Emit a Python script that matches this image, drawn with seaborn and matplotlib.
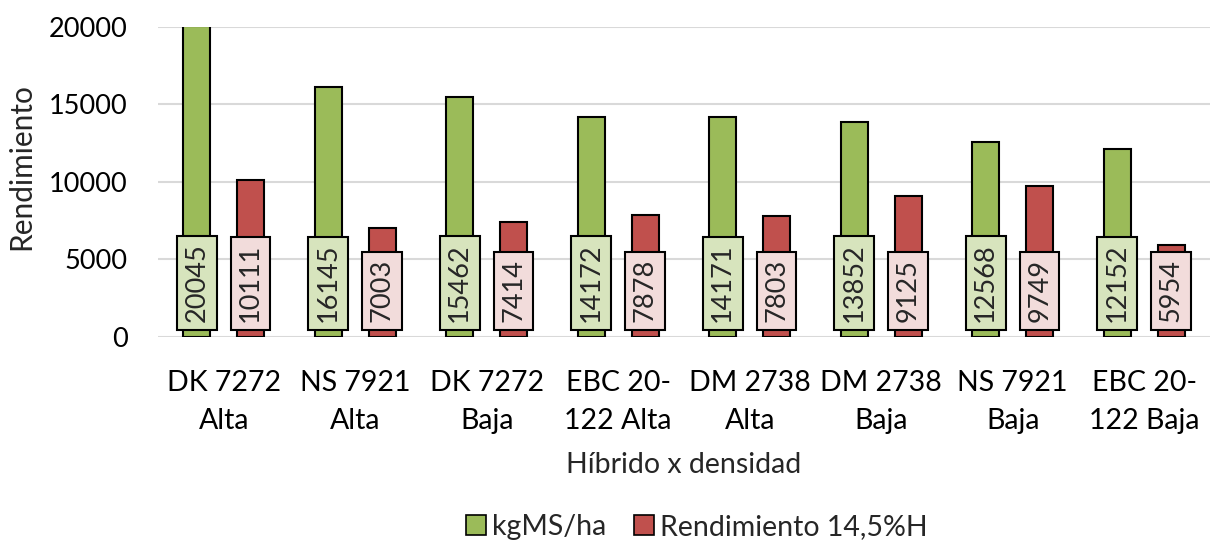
import matplotlib
matplotlib.use("Agg")
import matplotlib.pyplot as plt
import seaborn as sns
import pandas as pd
from matplotlib.patches import Patch

categories = ["DK 7272\nAlta", "NS 7921\nAlta", "DK 7272\nBaja", "EBC 20-\n122 Alta",
              "DM 2738\nAlta", "DM 2738\nBaja", "NS 7921\nBaja", "EBC 20-\n122 Baja"]
kgms = [20045, 16145, 15462, 14172, 14171, 13852, 12568, 12152]
rend = [10111, 7003, 7414, 7878, 7803, 9125, 9749, 5954]
series = ["kgMS/ha", "Rendimiento 14,5%H"]

df = pd.DataFrame({
    "cat": categories * 2,
    "serie": [series[0]] * len(categories) + [series[1]] * len(categories),
    "val": kgms + rend,
})

sns.set_theme(style="white")
plt.rcParams["font.family"] = ["Lato", "DejaVu Sans"]
FS_NUM = 19.5
FS_TXT = 20.5

colors = ["#9BBB59", "#C0504D"]
light = ["#D7E4BD", "#F2DCDB"]

fig = plt.figure(figsize=(12.18, 5.4), dpi=100)
ax = fig.add_axes([0.1297, 0.376, 0.8637, 0.574])

sns.barplot(data=df, x="cat", y="val", hue="serie", palette=colors, ax=ax,
            saturation=1, width=0.82, gap=0.5, edgecolor="black", linewidth=1.5,
            legend=False, zorder=3)

ax.set_ylim(0, 20000)
ax.set_yticks([0, 5000, 10000, 15000, 20000])
ax.yaxis.grid(True, color="#D9D9D9", linewidth=1.5, zorder=0)
ax.set_axisbelow(True)
for s in ax.spines.values():
    s.set_visible(False)
ax.tick_params(axis="both", length=0, colors="black")
ax.tick_params(axis="x", pad=24, labelsize=FS_TXT)
ax.tick_params(axis="y", pad=22, labelsize=FS_NUM)
ax.set_xlabel("Híbrido x densidad", fontsize=FS_TXT, labelpad=13)
ax.set_ylabel("Rendimiento", fontsize=21.5)
ax.yaxis.set_label_coords(-0.117, 0.55)
for lbl in ax.get_xticklabels():
    lbl.set_linespacing(1.55)

# data labels at the bottom of each bar
for i, cont in enumerate(ax.containers):
    vals = kgms if i == 0 else rend
    for bar, v in zip(cont.patches, vals):
        xc = bar.get_x() + bar.get_width() / 2
        ax.annotate(f"{v}", xy=(xc, 0), xytext=(0, 10.5), textcoords="offset points",
                    rotation=90, ha="center", va="bottom", fontsize=FS_NUM, zorder=5,
                    bbox=dict(boxstyle="square,pad=0.27", facecolor=light[i],
                              edgecolor="black", linewidth=1.5))

handles = [Patch(facecolor=c, edgecolor="black", linewidth=1.2) for c in colors]
fig.legend(handles, series, loc="lower center", ncol=2, frameon=False, fontsize=FS_TXT,
           bbox_to_anchor=(0.572, -0.047), handlelength=0.7, handleheight=0.7,
           handletextpad=0.2, columnspacing=1.0)

fig.savefig("out.png", dpi=100)
